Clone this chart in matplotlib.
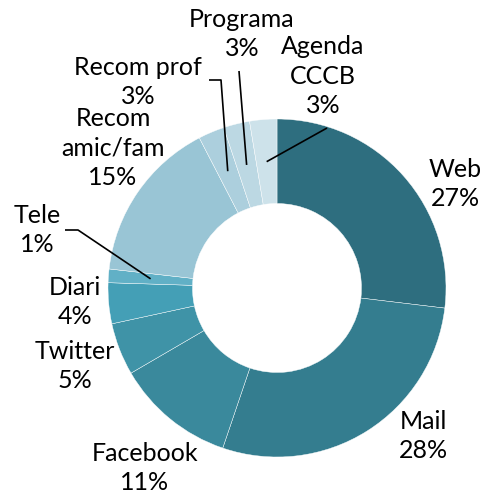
import matplotlib.pyplot as plt
import numpy as np

plt.rcParams['font.family'] = ['Lato', 'DejaVu Sans']

# dades (percentatges aproximats llegits del gràfic)
categories = ['Web', 'Mail', 'Facebook', 'Twitter', 'Diari', 'Tele',
              'Recom\namic/fam', 'Recom prof', 'Programa', 'Agenda\nCCCB']
values = [26.9, 28.3, 11.4, 5.0, 3.9, 1.3, 15.6, 2.5, 2.5, 2.6]
shown_pct = ['27%', '28%', '11%', '5%', '4%', '1%', '15%', '3%', '3%', '3%']
colors = ['#2E6E7F', '#347D8F', '#3A899C', '#3F93A7', '#449FB6', '#61B0C6',
          '#99C5D5', '#ACCFDD', '#BCD8E3', '#CDE2EA']

W, H = 481, 497
CX, CY, R = 277, 288, 169   # centre i radi del donut en píxels


def px(x, y):
    # píxels de la imatge -> coordenades de dades
    return (x - CX) / R, (CY - y) / R


# posició de cada etiqueta (centre del bloc de text, en píxels)
label_pos = [(455, 184), (423, 436), (145, 468), (75, 366), (75, 302),
             (37, 230), (113, 148), (138, 82), (242, 34), (323, 76)]
# línies guia: (índex, punt final en píxels, punt del colze o None)
leaders = [(9, (327, 128), None), (8, (239, 71), None),
           (7, (221, 80), (209, 80)), (5, (78, 230), (65, 230))]

fig = plt.figure(figsize=(W / 100, H / 100), dpi=100)
ax = fig.add_axes([0, 0, 1, 1])

wedges, _ = ax.pie(values, colors=colors, startangle=90, counterclock=False,
                   radius=1, wedgeprops=dict(width=0.5, edgecolor='white', linewidth=0.3))

for i, (name, pct) in enumerate(zip(categories, shown_pct)):
    x, y = px(*label_pos[i])
    ax.text(x, y, name + '\n' + pct, ha='center', va='center', fontsize=18,
            linespacing=1.32, color='black')

for i, end, elbow in leaders:
    w = wedges[i]
    ang = np.deg2rad((w.theta1 + w.theta2) / 2)
    sx, sy = 0.75 * np.cos(ang), 0.75 * np.sin(ang)
    ex, ey = px(*end)
    xs, ys = [sx, ex], [sy, ey]
    if elbow:
        bx, by = px(*elbow)
        xs.append(bx)
        ys.append(by)
    ax.plot(xs, ys, color='black', linewidth=1.2, solid_capstyle='butt')

ax.set_xlim((0 - CX) / R, (W - CX) / R)
ax.set_ylim((CY - H) / R, CY / R)
ax.set_aspect('auto')
ax.axis('off')

fig.savefig('out.png', dpi=100)
